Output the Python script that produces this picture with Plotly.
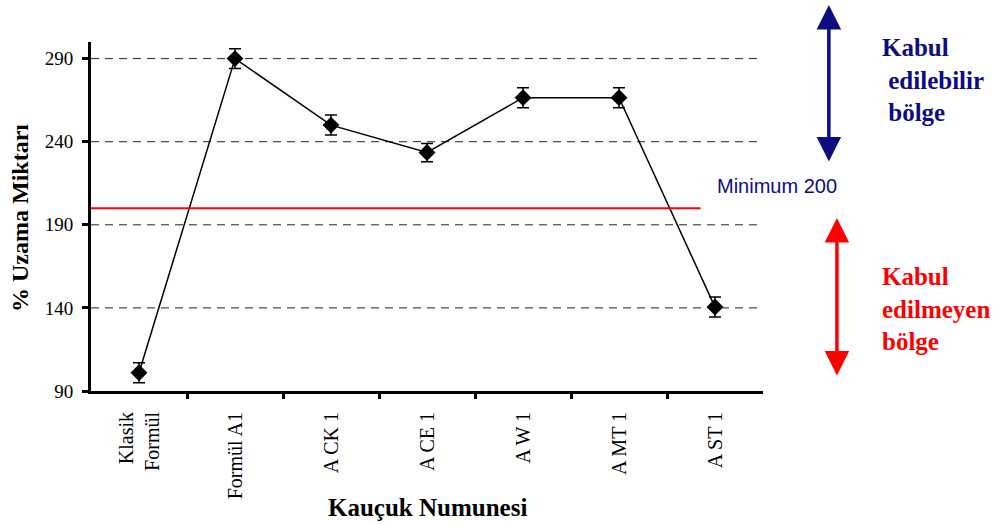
import plotly.graph_objects as go

categories = ["Klasik<br>Formül", "Formül A1", "A CK 1", "A CE 1", "A W 1", "A MT 1", "A ST 1"]
values = [101, 290, 250, 233.5, 266.5, 266.5, 140.5]
errors = [6, 6, 6, 5.5, 6, 6, 6]
y_ticks = [90, 140, 190, 240, 290]
minimum = 200

serif = "Liberation Serif"
navy = "#0d0d80"
xi = list(range(len(categories)))

fig = go.Figure()
fig.add_trace(go.Scatter(
    x=xi, y=values, mode="lines+markers",
    line=dict(color="black", width=1.5),
    marker=dict(symbol="diamond", size=13, color="black"),
    error_y=dict(type="data", array=errors, visible=True, color="black", thickness=1.5, width=6),
    showlegend=False, cliponaxis=False,
))

# dashed gridlines
for v in y_ticks[1:]:
    fig.add_shape(type="line", xref="x", yref="y", x0=-0.5, x1=6.5, y0=v, y1=v,
                  line=dict(color="#222222", width=1, dash="8px,6px"), layer="below")

# minimum line
fig.add_shape(type="line", xref="x", yref="y", x0=-0.5, x1=5.85, y0=minimum, y1=minimum,
              line=dict(color="red", width=2))

# double-headed arrows (paper coords)
fig.add_annotation(x=1.098, y=1.106, xref="paper", yref="paper", axref="pixel", ayref="pixel",
                   ax=0, ay=158, showarrow=True, arrowhead=2, arrowside="end+start",
                   arrowsize=1.4, arrowwidth=3.5, arrowcolor=navy, text="", standoff=0, startstandoff=0)
fig.add_annotation(x=1.110, y=0.4957, xref="paper", yref="paper", axref="pixel", ayref="pixel",
                   ax=0, ay=159, showarrow=True, arrowhead=2, arrowside="end+start",
                   arrowsize=1.4, arrowwidth=3.5, arrowcolor="red", text="", standoff=0, startstandoff=0)

fig.add_annotation(x=1.174, y=1.03, xref="paper", yref="paper", showarrow=False, align="left",
                   xanchor="left", yanchor="top",
                   text="<b>Kabul<br> edilebilir<br> bölge</b>",
                   font=dict(family=serif, size=25, color=navy))
fig.add_annotation(x=1.174, y=0.372, xref="paper", yref="paper", showarrow=False, align="left",
                   xanchor="left", yanchor="top",
                   text="<b>Kabul<br>edilmeyen<br>bölge</b>",
                   font=dict(family=serif, size=25, color="red"))
fig.add_annotation(x=(715 - 91) / 672, y=(391 - 186) / 349, xref="paper", yref="paper", showarrow=False,
                   xanchor="left", yanchor="middle", text="Minimum 200",
                   font=dict(family="Liberation Sans", size=20, color=navy))

# axis titles
fig.add_annotation(x=(20 - 91) / 672, y=(391 - 218) / 349, xref="paper", yref="paper", showarrow=False,
                   textangle=-90, xanchor="center", yanchor="middle",
                   text="<b>% Uzama Miktarı</b>", font=dict(family=serif, size=24, color="black"))
fig.add_annotation(x=(427 - 91) / 672, y=(391 - 507) / 349, xref="paper", yref="paper", showarrow=False,
                   xanchor="center", yanchor="middle",
                   text="<b>Kauçuk Numunesi</b>", font=dict(family=serif, size=25, color="black"))

fig.update_layout(
    width=997, height=524,
    margin=dict(l=91, r=234, t=42, b=133),
    plot_bgcolor="white", paper_bgcolor="white",
    font=dict(family=serif, color="black", size=16),
)
fig.update_xaxes(
    range=[-0.5, 6.5], tickmode="array", tickvals=xi, ticktext=categories,
    tickangle=-90, showgrid=False, zeroline=False,
    showline=True, linecolor="black", linewidth=3,
    ticks="", ticklabelstandoff=10, tickfont=dict(family=serif, size=20),
)
# boundary ticks drawn via an overlay axis
fig.update_layout(xaxis2=dict(
    overlaying="x", range=[-0.5, 6.5], tickmode="array",
    tickvals=[i + 0.5 for i in xi[:-1]], ticktext=[""] * (len(xi) - 1),
    side="bottom", ticks="outside", ticklen=7, tickwidth=3, tickcolor="black",
    showgrid=False, zeroline=False, showline=False, anchor="y",
))
fig.add_trace(go.Scatter(x=[0], y=[None], xaxis="x2", showlegend=False, hoverinfo="skip"))

fig.update_yaxes(
    range=[90, 300], tickmode="array", tickvals=y_ticks,
    showgrid=False, zeroline=False, showline=True, linecolor="black", linewidth=3,
    ticks="outside", ticklen=6, tickwidth=3, tickcolor="black",
    ticklabelstandoff=5, tickfont=dict(family=serif, size=19),
)

fig.write_html("out.html", config={"displayModeBar": False},
               post_script="document.body.style.margin='0';")
